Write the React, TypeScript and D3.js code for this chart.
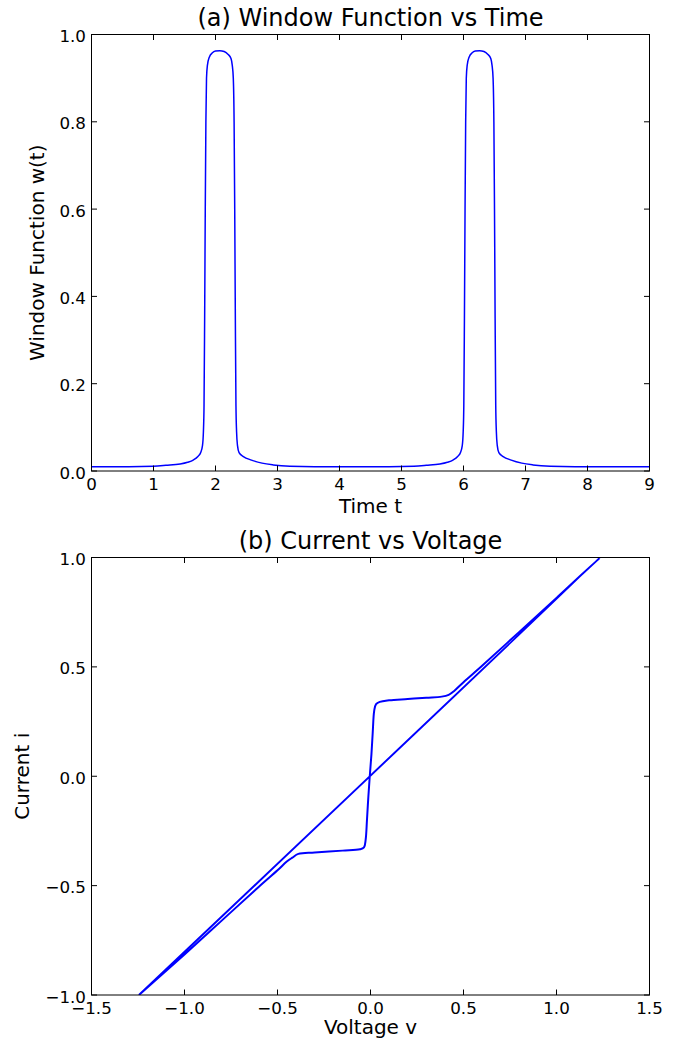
import React from 'react';
import * as d3 from 'd3';

// (a) window function samples
const timeT = [0, 0.6, 1.0, 1.2, 1.43, 1.55, 1.64, 1.72, 1.76, 1.79, 1.805, 1.815, 1.825, 1.835, 1.845, 1.855, 1.87, 1.9, 1.95, 2.0, 2.07, 2.14, 2.2, 2.25, 2.27, 2.287, 2.3, 2.31, 2.32, 2.33, 2.34, 2.355, 2.38, 2.45, 2.58, 2.75, 2.93, 3.2, 3.6,
  4.0, 4.8, 5.2, 5.4, 5.62, 5.74, 5.83, 5.91, 5.95, 5.98, 5.995, 6.005, 6.015, 6.025, 6.035, 6.045, 6.06, 6.09, 6.14, 6.19, 6.26, 6.33, 6.39, 6.44, 6.46, 6.477, 6.49, 6.5, 6.51, 6.52, 6.53, 6.545, 6.57, 6.64, 6.77, 6.94, 7.12, 7.4, 7.8, 9.0];
const windowW = [0.01, 0.01, 0.011, 0.013, 0.016, 0.02, 0.025, 0.034, 0.042, 0.058, 0.09, 0.15, 0.35, 0.6, 0.8, 0.9, 0.93, 0.948, 0.958, 0.962, 0.963, 0.961, 0.955, 0.945, 0.93, 0.9, 0.8, 0.6, 0.35, 0.15, 0.09, 0.058, 0.042, 0.033, 0.025, 0.018, 0.014, 0.011, 0.01,
  0.01, 0.01, 0.011, 0.013, 0.016, 0.02, 0.025, 0.034, 0.042, 0.058, 0.09, 0.15, 0.35, 0.6, 0.8, 0.9, 0.93, 0.948, 0.958, 0.962, 0.963, 0.961, 0.955, 0.945, 0.93, 0.9, 0.8, 0.6, 0.35, 0.15, 0.09, 0.058, 0.042, 0.033, 0.025, 0.018, 0.014, 0.011, 0.01, 0.01];

// (b) current vs voltage loop
const voltageV = [-1.245, 1.235, 1.0, 0.8, 0.6, 0.5, 0.45, 0.42, 0.383, 0.3, 0.2, 0.1, 0.05, 0.03, 0.02, 0.012, 0.005, -0.004, -0.012, -0.019, -0.026, -0.035, -0.057, -0.15, -0.3, -0.388, -0.42, -0.45, -0.5, -0.6, -0.8, -1.0, -1.245];
const currentI = [-1.0, 1.0, 0.815, 0.66, 0.505, 0.43, 0.39, 0.372, 0.364, 0.359, 0.353, 0.347, 0.34, 0.33, 0.3, 0.2, 0.1, 0.0, -0.1, -0.2, -0.29, -0.325, -0.334, -0.34, -0.349, -0.355, -0.372, -0.39, -0.43, -0.505, -0.66, -0.815, -1.0];

const tTicks = [0, 1, 2, 3, 4, 5, 6, 7, 8, 9];
const wTicks = [0.0, 0.2, 0.4, 0.6, 0.8, 1.0];
const vTicks = [-1.5, -1.0, -0.5, 0.0, 0.5, 1.0, 1.5];
const iTicks = [-1.0, -0.5, 0.0, 0.5, 1.0];

const font = "'DejaVu Sans', sans-serif";
const tickLen = 5.5;
const fmt = (d: number) => d3.format('.1f')(d).replace('-', '\u2212');

function Panel({ x, y, title, xLabel, yLabel, yLabelX, xLabelY, xTicks, yTicks, xFmt, xs, ys, lw, id, curve }: any) {
  const [x0, x1] = x.range();
  const [y0, y1] = y.range(); // y0 bottom, y1 top
  const line = d3.line<number>()
    .x((_, i) => x(xs[i]))
    .y((_, i) => y(ys[i]))
    .curve(curve);
  return (
    <g fontFamily={font} fill="#000">
      <defs>
        <clipPath id={'clip-' + id}>
          <rect x={x0} y={y1} width={x1 - x0} height={y0 - y1} />
        </clipPath>
      </defs>
      <path d={line(xs) || ''} fill="none" stroke="#0000ff" strokeWidth={lw} clipPath={`url(#clip-${id})`} />
      <rect x={x0} y={y1} width={x1 - x0} height={y0 - y1} fill="none" stroke="#000" strokeWidth={1} />
      {xTicks.map((t: number) => (
        <g key={'x' + t}>
          <line x1={x(t)} x2={x(t)} y1={y0} y2={y0 - tickLen} stroke="#000" />
          <line x1={x(t)} x2={x(t)} y1={y1} y2={y1 + tickLen} stroke="#000" />
          <text x={x(t)} y={y0 + 19} textAnchor="middle" fontSize={16.7}>{xFmt(t)}</text>
        </g>
      ))}
      {yTicks.map((t: number) => (
        <g key={'y' + t}>
          <line x1={x0} x2={x0 + tickLen} y1={y(t)} y2={y(t)} stroke="#000" />
          <line x1={x1} x2={x1 - tickLen} y1={y(t)} y2={y(t)} stroke="#000" />
          <text x={x0 - 5.5} y={y(t) + 7.5} textAnchor="end" fontSize={16.7}>{fmt(t)}</text>
        </g>
      ))}
      <text x={(x0 + x1) / 2} y={y1 - 8.5} textAnchor="middle" fontSize={24}>{title}</text>
      <text x={(x0 + x1) / 2} y={xLabelY} textAnchor="middle" fontSize={20}>{xLabel}</text>
      <text transform={`translate(${yLabelX},${(y0 + y1) / 2}) rotate(-90)`} textAnchor="middle" fontSize={20}>{yLabel}</text>
    </g>
  );
}

export default function App() {
  const W = 678, H = 1041;
  const xA = d3.scaleLinear().domain([0, 9]).range([91.5, 649.5]);
  const yA = d3.scaleLinear().domain([0, 1]).range([471, 34.5]);
  const xB = d3.scaleLinear().domain([-1.5, 1.5]).range([91.5, 649.5]);
  const yB = d3.scaleLinear().domain([-1, 1]).range([995, 557.5]);
  return (
    <svg width={W} height={H} style={{ position: 'absolute', left: 0, top: 0, background: '#fff' }}>
      <rect width={W} height={H} fill="#fff" />
      <Panel id="a" x={xA} y={yA} title="(a) Window Function vs Time" xLabel="Time t" yLabel="Window Function w(t)"
        yLabelX={44} xLabelY={513} xTicks={tTicks} yTicks={wTicks} xFmt={(d: number) => String(d)}
        xs={timeT} ys={windowW} lw={1.5} curve={d3.curveMonotoneX} />
      <Panel id="b" x={xB} y={yB} title="(b) Current vs Voltage" xLabel="Voltage v" yLabel="Current i"
        yLabelX={29} xLabelY={1034} xTicks={vTicks} yTicks={iTicks} xFmt={fmt}
        xs={voltageV} ys={currentI} lw={2} curve={d3.curveCatmullRom.alpha(0.5)} />
    </svg>
  );
}
